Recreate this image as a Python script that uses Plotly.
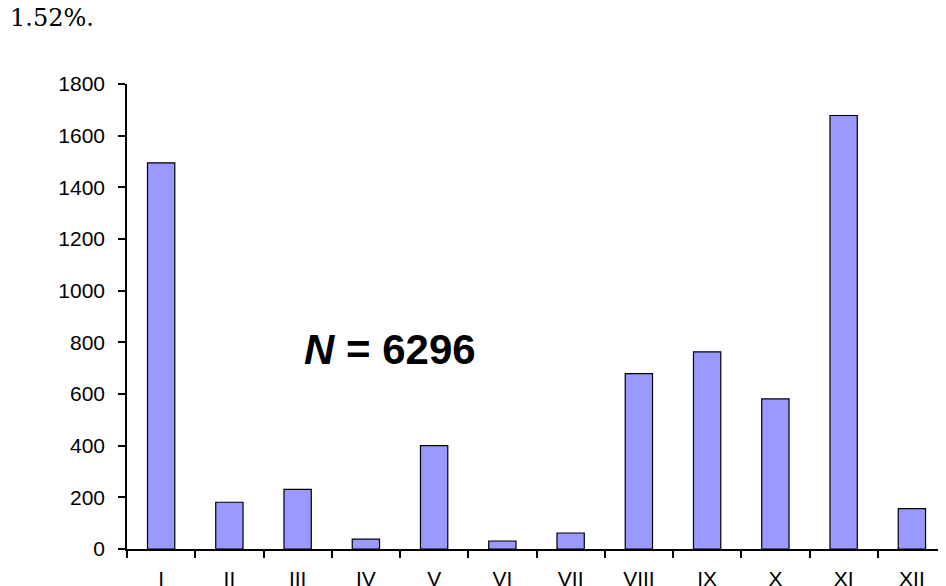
import plotly.graph_objects as go

# months (roman numerals) and counts
months = ["I", "II", "III", "IV", "V", "VI", "VII", "VIII", "IX", "X", "XI", "XII"]
counts = [1495, 181, 231, 38, 400, 31, 62, 679, 763, 581, 1678, 156]
y_ticks = [0, 200, 400, 600, 800, 1000, 1200, 1400, 1600, 1800]

fig = go.Figure()

fig.add_trace(
    go.Bar(
        x=months,
        y=counts,
        width=0.4,
        marker=dict(color="#9999FF", line=dict(color="#000000", width=1.2)),
    )
)

# page body has an 8px margin, so the figure is shrunk by that much
fig.update_layout(
    width=938,
    height=578,
    margin=dict(l=119, r=0, t=76, b=37),
    paper_bgcolor="white",
    plot_bgcolor="white",
    showlegend=False,
    font=dict(family="Liberation Sans, Arial, sans-serif", size=21, color="black"),
)

fig.update_xaxes(
    type="category",
    automargin=False,
    showgrid=False,
    showline=True,
    linecolor="black",
    linewidth=1.5,
    ticks="outside",
    tickson="boundaries",
    ticklen=7,
    tickwidth=1.5,
    tickcolor="black",
    ticklabelstandoff=10,
)

fig.update_yaxes(
    range=[0, 1800],
    tickvals=y_ticks,
    automargin=False,
    showgrid=False,
    zeroline=False,
    showline=True,
    linecolor="black",
    linewidth=1.5,
    ticks="outside",
    ticklen=7,
    tickwidth=1.5,
    tickcolor="black",
    ticklabelstandoff=9,
)

# sample size label
fig.add_annotation(
    text="<b><i>N</i> = 6296</b>",
    xref="paper", yref="paper",
    x=0.321, y=0.428,
    xanchor="center", yanchor="middle",
    showarrow=False,
    font=dict(family="Liberation Sans, Arial, sans-serif", size=42, color="black"),
)

# leftover text from the page above the figure
fig.add_annotation(
    text="1.52%.",
    xref="paper", yref="paper",
    x=-0.145, y=1.142,
    xanchor="left", yanchor="middle",
    showarrow=False,
    font=dict(family="DejaVu Serif, Liberation Serif, serif", size=24, color="black"),
)

fig.write_html("out.html")
